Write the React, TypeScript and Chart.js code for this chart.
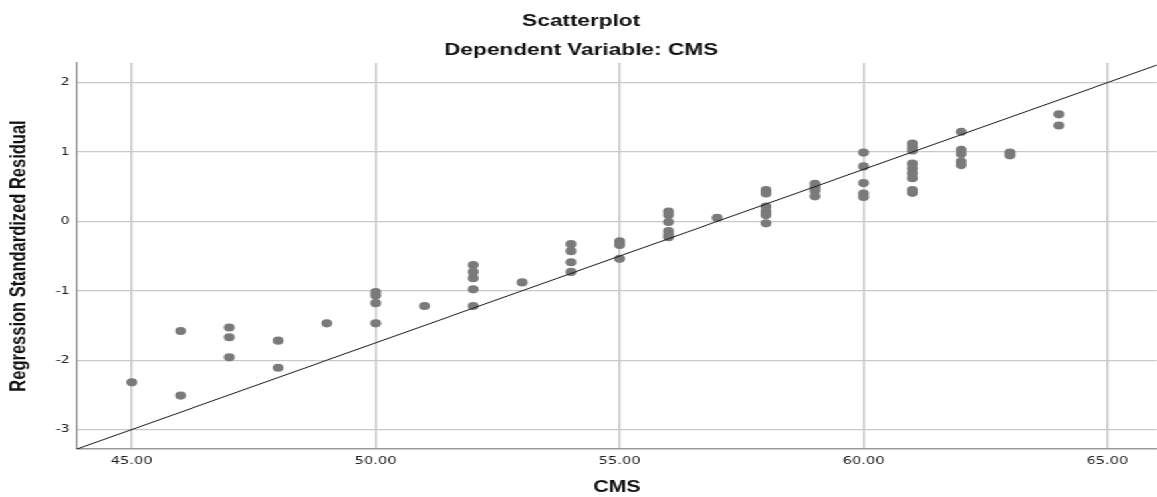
import React, { useEffect, useRef } from 'react';
import { Chart, registerables } from 'chart.js';

Chart.register(...registerables);

// CMS (x) value of every case
const cmsValues = [
  45,
  46, 46,
  47, 47, 47,
  48, 48,
  49,
  50, 50, 50, 50,
  51,
  52, 52, 52, 52, 52,
  53,
  54, 54, 54, 54,
  55, 55, 55,
  56, 56, 56, 56, 56, 56,
  57,
  58, 58, 58, 58, 58, 58,
  59, 59, 59, 59,
  60, 60, 60, 60, 60,
  61, 61, 61, 61, 61, 61, 61, 61, 61,
  62, 62, 62, 62, 62,
  63, 63,
  64, 64,
];

// Regression standardized residual (y) of every case
const residualValues = [
  -2.32,
  -1.58, -2.51,
  -1.53, -1.67, -1.96,
  -1.72, -2.11,
  -1.47,
  -1.02, -1.07, -1.18, -1.47,
  -1.22,
  -0.63, -0.73, -0.82, -0.98, -1.22,
  -0.88,
  -0.33, -0.43, -0.59, -0.73,
  -0.29, -0.34, -0.54,
  0.14, 0.09, -0.01, -0.14, -0.19, -0.23,
  0.05,
  0.45, 0.40, 0.21, 0.14, 0.09, -0.03,
  0.54, 0.49, 0.44, 0.36,
  0.99, 0.79, 0.55, 0.40, 0.35,
  1.12, 1.07, 1.02, 0.83, 0.76, 0.69, 0.62, 0.45, 0.41,
  1.29, 1.03, 0.97, 0.86, 0.81,
  0.99, 0.95,
  1.54, 1.38,
];

// Reference line end points (at the axis limits)
const fitLineCms = [43.88, 66.01];
const fitLineResidual = [-3.28, 2.25];

const xTickValues = [45, 50, 55, 60, 65];
const yTickValues = [-3, -2, -1, 0, 1, 2];

const xMin = 43.88;
const xMax = 66.01;
const yMin = -3.28;
const yMax = 2.28;

// the chart is drawn narrower and stretched horizontally, like the reference image
const VISIBLE_W = 870;
const CANVAS_W = 874;
const CANVAS_H = 497;
const PAGE_W = 1157;

export default function App() {
  const canvasRef = useRef<HTMLCanvasElement | null>(null);

  useEffect(() => {
    const canvas = canvasRef.current;
    if (!canvas) return;

    const points = cmsValues.map((x, i) => ({ x, y: residualValues[i] }));
    const linePts = fitLineCms.map((x, i) => ({ x, y: fitLineResidual[i] }));

    const titleFont = { family: 'Liberation Sans', weight: 'bold' as const, size: 17, lineHeight: 1.2 };
    const tickFont = { family: 'DejaVu Sans', size: 11, lineHeight: 1.2 };

    const chart = new Chart(canvas, {
      type: 'scatter',
      data: {
        datasets: [
          {
            type: 'line',
            label: 'Fit',
            data: linePts,
            borderColor: '#1a1a1a',
            borderWidth: 1,
            pointRadius: 0,
            showLine: true,
            fill: false,
            tension: 0,
          } as any,
          {
            label: 'Cases',
            data: points,
            backgroundColor: '#7a7a7a',
            borderWidth: 0,
            pointRadius: 4.1,
            pointHoverRadius: 4.1,
          },
        ],
      },
      options: {
        responsive: false,
        animation: false,
        devicePixelRatio: 1,
        layout: { padding: 0 },
        plugins: {
          legend: { display: false },
          tooltip: { enabled: false },
          title: {
            display: true,
            text: 'Scatterplot',
            color: '#111',
            font: titleFont,
            padding: { top: 10.8, bottom: 4.3 },
          },
          subtitle: {
            display: true,
            text: 'Dependent Variable: CMS',
            color: '#111',
            font: titleFont,
            padding: { top: 4.3, bottom: 2.8 },
          },
        },
        scales: {
          x: {
            type: 'linear',
            position: 'bottom',
            min: xMin,
            max: xMax,
            afterBuildTicks: (scale: any) => {
              scale.ticks = xTickValues.map((v) => ({ value: v }));
            },
            afterFit: (scale: any) => {
              scale.height = 48;
            },
            ticks: {
              font: tickFont,
              color: '#222',
              padding: 5.4,
              maxRotation: 0,
              autoSkip: false,
              callback: (v: any) => Number(v).toFixed(2),
            },
            grid: { color: '#c9c9c9', lineWidth: 1.5, drawTicks: false },
            border: { color: '#9a9a9a', width: 1.5 },
            title: {
              display: true,
              text: 'CMS',
              color: '#111',
              font: { family: 'Liberation Sans', weight: 'bold', size: 16, lineHeight: 1 },
              padding: { top: 7, bottom: 1 },
            },
          },
          y: {
            type: 'linear',
            min: yMin,
            max: yMax,
            afterBuildTicks: (scale: any) => {
              scale.ticks = yTickValues.map((v) => ({ value: v }));
            },
            afterFit: (scale: any) => {
              scale.width = 58;
            },
            ticks: {
              font: tickFont,
              color: '#222',
              padding: 5.4,
              autoSkip: false,
              callback: (v: any) => String(v),
            },
            grid: { color: '#c9c9c9', lineWidth: 1.2, drawTicks: false },
            border: { color: '#8a8a8a', width: 1.3 },
            title: {
              display: true,
              text: 'Regression Standardized Residual',
              color: '#111',
              font: { family: 'Liberation Sans', weight: 'bold', size: 16.5, lineHeight: 1 },
              padding: { top: 6.5, bottom: 0 },
            },
          },
        },
      },
    });

    return () => {
      chart.destroy();
    };
  }, []);

  return (
    <div
      style={{
        position: 'fixed',
        left: 0,
        top: 0,
        width: CANVAS_W,
        height: CANVAS_H,
        transform: `scaleX(${PAGE_W / VISIBLE_W})`,
        transformOrigin: '0 0',
        background: '#fff',
      }}
    >
      <canvas ref={canvasRef} width={CANVAS_W} height={CANVAS_H} />
    </div>
  );
}
